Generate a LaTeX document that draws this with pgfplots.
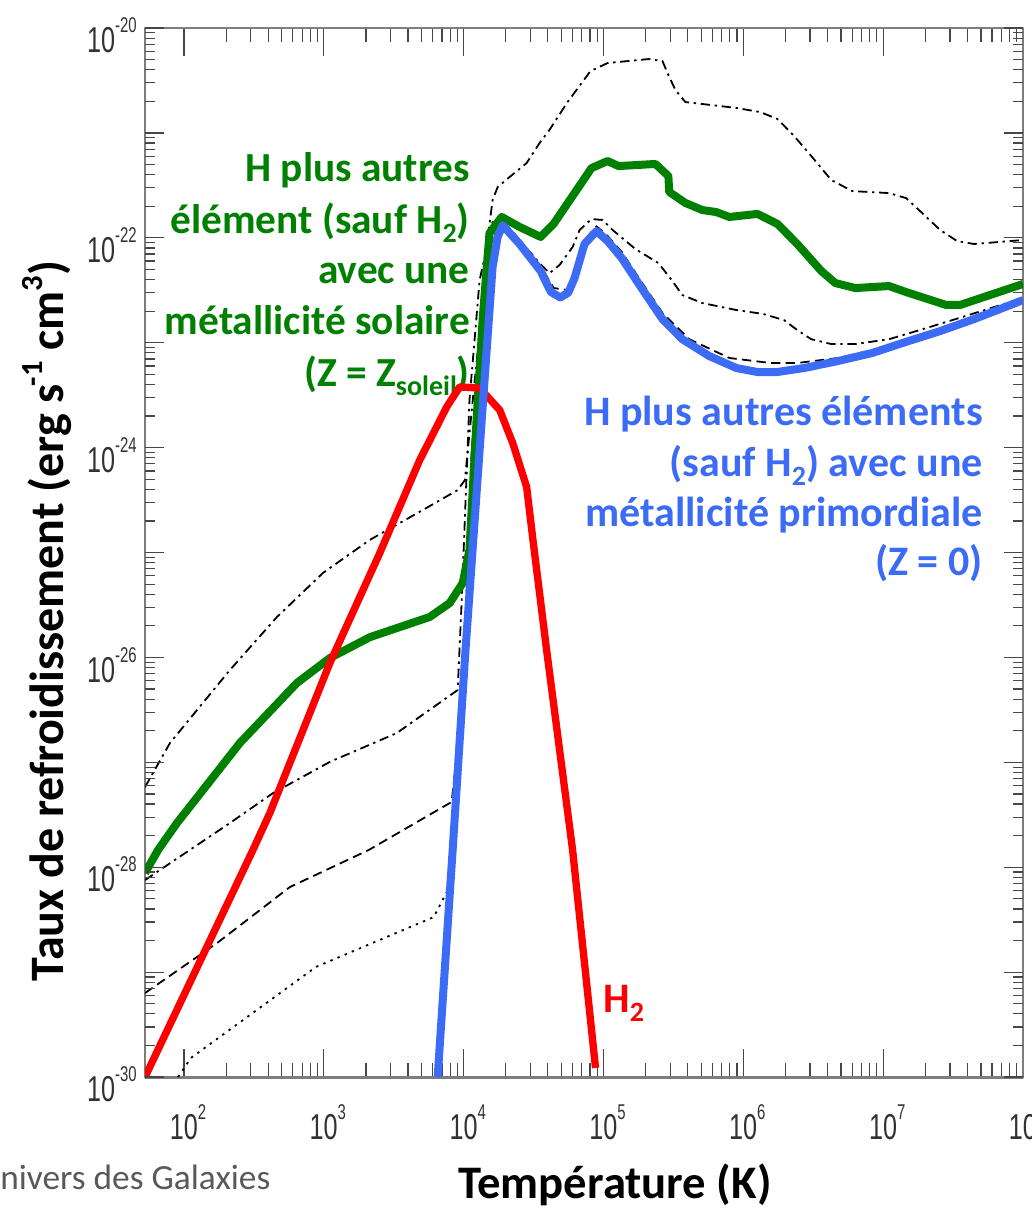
\documentclass[border=0pt]{standalone}
\usepackage{fontspec}
\setmainfont{Carlito}
\newfontfamily\tickfont[FakeStretch=0.7]{Liberation Sans}
\usepackage{pgfplots}
\pgfplotsset{compat=1.18}
\definecolor{cgreen}{RGB}{0,128,0}
\definecolor{cred}{RGB}{255,0,0}
\definecolor{cblue}{RGB}{60,108,245}
\definecolor{axgray}{RGB}{125,125,125}
\definecolor{tkgray}{RGB}{70,70,70}
\definecolor{tklab}{RGB}{50,50,50}
\definecolor{txgray}{RGB}{89,89,89}
\newcommand\tl[1]{{\tickfont\fontsize{27}{27}\selectfont 10\raisebox{15pt}{\fontsize{16}{16}\selectfont #1}}}
\newcommand\sub[1]{\raisebox{-0.2em}{\fontsize{21}{21}\selectfont #1}}

\pgfplotstableread{
x y
52.6 5.81e-28
79.4 1.53e-27
213 7.59e-27
462 2.43e-26
984 6.38e-26
2133 1.32e-25
5093 2.54e-25
9060 3.94e-25
1.02e4 4.91e-25
1.20e4 4.41e-24
1.37e4 2.55e-23
1.51e4 1.19e-22
1.61e4 2.29e-22
1.75e4 3.05e-22
2.13e4 3.80e-22
2.82e4 5.16e-22
3.49e4 8.02e-22
4.11e4 1.07e-21
5.53e4 1.97e-21
8.07e4 3.89e-21
1.07e5 4.64e-21
2.10e5 5.06e-21
2.64e5 4.84e-21
2.91e5 3.56e-21
3.27e5 2.56e-21
3.85e5 1.97e-21
8.91e5 1.73e-21
1.32e6 1.58e-21
1.75e6 1.36e-21
2.31e6 9.33e-22
3.06e6 6.02e-22
4.25e6 3.56e-22
6.01e6 2.79e-22
1.10e7 2.67e-22
1.46e7 2.39e-22
1.93e7 1.69e-22
2.55e7 1.19e-22
3.38e7 9.31e-23
4.47e7 8.73e-23
1e8 9.53e-23
}\curveA

\pgfplotstableread{
x y
52.6 7.55e-29
213 2.64e-28
433 5.09e-28
1104 1.01e-27
3319 1.90e-27
9060 4.89e-27
9680 3.52e-26
1.10e4 2.84e-24
1.30e4 3.96e-23
1.61e4 1.42e-22
1.90e4 1.48e-22
2.51e4 9.53e-23
3.55e4 5.60e-23
4.11e4 4.61e-23
4.85e4 5.51e-23
6.01e4 8.17e-23
6.75e4 1.19e-22
8.20e4 1.51e-22
9.84e4 1.48e-22
1.16e5 1.19e-22
1.69e5 7.82e-23
2.47e5 5.75e-23
3.11e5 3.87e-23
3.66e5 2.85e-23
5.09e5 2.39e-23
8.91e5 2.05e-23
1.39e6 1.88e-23
1.96e6 1.64e-23
2.43e6 1.32e-23
3.06e6 1.08e-23
4.25e6 9.72e-24
6.31e6 9.72e-24
1.10e7 1.08e-23
1.93e7 1.35e-23
3.49e7 1.72e-23
1e8 2.67e-23
}\curveB

\pgfplotstableread{
x y
52.6 6.32e-30
172 1.89e-29
571 6.47e-29
2094 1.46e-28
8200 4.19e-28
9840 3.93e-27
1.14e4 9.48e-25
1.41e4 2.55e-23
1.69e4 1.14e-22
1.90e4 1.42e-22
2.51e4 9.53e-23
3.55e4 5.38e-23
4.40e4 3.32e-23
5.53e4 3.18e-23
6.21e4 4.72e-23
7.31e4 9.53e-23
8.91e4 1.29e-22
1.07e5 1.04e-22
1.35e5 7.33e-23
1.87e5 3.79e-23
2.64e5 1.92e-23
4.11e5 1.08e-23
7.94e5 7.15e-24
1.56e6 6.41e-24
2.43e6 6.41e-24
4.77e6 7.15e-24
8.35e6 8.51e-24
1.46e7 1.04e-23
2.55e7 1.29e-23
4.47e7 1.72e-23
1e8 2.60e-23
}\curveC

\pgfplotstableread{
x y
90.6 1e-30
112 1.52e-30
877 1.12e-29
6109 3.35e-29
7690 6.05e-29
8630 1.46e-28
1.03e4 1.17e-26
1.30e4 9.48e-25
1.46e4 8.51e-24
}\curveD

\pgfplotstableread{
x y
52.6 8.81e-29
65.2 1.46e-28
89.1 2.64e-28
251 1.53e-27
641 5.70e-27
1104 9.87e-27
2133 1.56e-26
5715 2.43e-26
7943 3.30e-26
9840 5.12e-26
1.10e4 1.06e-25
1.24e4 1.96e-24
1.37e4 1.76e-23
1.53e4 1.11e-22
1.87e4 1.58e-22
2.51e4 1.27e-22
3.55e4 1.02e-22
4.40e4 1.36e-22
6.21e4 2.67e-22
8.20e4 4.62e-22
1.07e5 5.40e-22
1.28e5 4.83e-22
2.35e5 5.06e-22
2.91e5 3.88e-22
2.95e5 2.74e-22
3.85e5 2.15e-22
5.09e5 1.84e-22
6.41e5 1.76e-22
7.94e5 1.58e-22
1.26e6 1.69e-22
1.75e6 1.36e-22
2.43e6 8.73e-23
3.61e6 4.83e-23
4.54e6 3.71e-23
6.31e6 3.32e-23
1.10e7 3.47e-23
1.46e7 3.04e-23
2.82e7 2.29e-23
3.55e7 2.29e-23
1e8 3.63e-23
}\curveGreen

\pgfplotstableread{
x y
52.6 1e-30
311 1.46e-28
411 3.29e-28
1104 8.85e-27
2512 9.9e-26
4850 7.62e-25
7560 2.44e-24
9360 3.79e-24
1.30e4 3.70e-24
1.81e4 2.28e-24
2.24e4 1.11e-24
2.82e4 4.21e-25
3.11e4 1.41e-25
3.92e4 1.17e-26
6.01e4 1.46e-28
8.77e4 1.22e-30
}\curveRed

\pgfplotstableread{
x y
6516 1e-30
8340 1.46e-28
1.03e4 1.17e-26
1.30e4 9.48e-25
1.46e4 8.51e-24
1.61e4 5.27e-23
1.75e4 1.02e-22
1.90e4 1.32e-22
2.51e4 8.73e-23
3.55e4 4.83e-23
4.20e4 3.05e-23
4.90e4 2.70e-23
5.60e4 3.00e-23
6.21e4 4.14e-23
7.31e4 8.73e-23
8.91e4 1.16e-22
1.07e5 9.31e-23
1.35e5 6.41e-23
1.87e5 3.32e-23
2.64e5 1.68e-23
3.66e5 1.08e-23
5.71e5 7.46e-24
8.91e5 5.74e-24
1.26e6 5.26e-24
1.75e6 5.26e-24
2.73e6 5.74e-24
4.77e6 6.70e-24
8.35e6 7.98e-24
1.46e7 1.02e-23
2.55e7 1.29e-23
4.47e7 1.68e-23
1e8 2.55e-23
}\curveBlue

\begin{document}
\begin{tikzpicture}
\path[use as bounding box] (0,0) rectangle (773.25pt,909pt);

% annotations (drawn below the curves)
\begin{scope}[inner sep=0pt, font=\bfseries\fontsize{31}{38}\selectfont]
\node[anchor=base east, text=cgreen] at (352.5pt,772.5pt) {H plus autres};
\node[anchor=base east, text=cgreen] at (352.5pt,733.5pt) {élément (sauf H\sub{2})};
\node[anchor=base east, text=cgreen] at (352.5pt,696pt) {avec une};
\node[anchor=base east, text=cgreen] at (352.5pt,657.75pt) {métallicité solaire};
\node[anchor=base east, text=cgreen] at (352.5pt,618.75pt) {(Z = Z\sub{soleil})};
\end{scope}
\begin{scope}[inner sep=0pt, font=\bfseries\fontsize{31.5}{38}\selectfont]
\node[anchor=base east, text=cblue] at (737.25pt,589.5pt) {H plus autres éléments};
\node[anchor=base east, text=cblue] at (737.25pt,551.25pt) {(sauf H\sub{2}) avec une};
\node[anchor=base east, text=cblue] at (737.25pt,513.75pt) {métallicité primordiale};
\node[anchor=base east, text=cblue] at (737.25pt,477pt) {(Z = 0)};
\node[anchor=base west, text=cred] at (452.25pt,149.25pt) {H\sub{2}};
\end{scope}

\node[inner sep=0pt, anchor=base, font=\bfseries\fontsize{35}{40}\selectfont] at (461.25pt,10pt) {Température (K)};
\node[inner sep=0pt, anchor=base, rotate=90, font=\bfseries\fontsize{36}{40}\selectfont] at (47.25pt,443.25pt) {Taux de refroidissement (erg s\kern-0.05em\raisebox{0.42em}{\fontsize{23}{23}\selectfont -1} cm\raisebox{0.42em}{\fontsize{23}{23}\selectfont 3})};
\node[inner sep=0pt, anchor=base west, text=txgray, font=\fontsize{26.5}{30}\selectfont] at (0pt,16.5pt) {\llap{U}nivers des Galaxies};

\begin{axis}[
  at={(108.75pt,101.25pt)}, anchor=south west,
  scale only axis, width=658.5pt, height=786.75pt,
  xmode=log, ymode=log,
  xmin=52.6, xmax=1e8, ymin=1e-30, ymax=1e-20,
  xtick={1e2,1e3,1e4,1e5,1e6,1e7,1e8},
  xticklabels={\tl{2},\tl{3},\tl{4},\tl{5},\tl{6},\tl{7},\tl{8}},
  ytick=\empty,
  major tick length=21pt, minor tick length=10.5pt,
  tick style={draw=tkgray, line width=0.9pt},
  axis line style={draw=axgray, line width=2.2pt},
  xticklabel style={inner sep=0pt, yshift=-20.75pt, xshift=3pt, text=tklab},
  line join=round,
]
\addplot[black, line width=1.35pt, dash pattern=on 7pt off 3.5pt on 1.8pt off 3.5pt] table {\curveA};
\addplot[black, line width=1.35pt, dash pattern=on 7pt off 3.5pt on 1.8pt off 3.5pt] table {\curveB};
\addplot[black, line width=1.35pt, dash pattern=on 7pt off 4pt] table {\curveC};
\addplot[black, line width=1.35pt, dash pattern=on 1.8pt off 4pt] table {\curveD};
\addplot[cgreen, line width=6pt] table {\curveGreen};
\addplot[cred, line width=5.5pt] table {\curveRed};
\addplot[cblue, line width=6pt] table {\curveBlue};
\end{axis}

\begin{axis}[
  at={(108.75pt,101.25pt)}, anchor=south west,
  scale only axis, width=658.5pt, height=786.75pt,
  xmode=log, ymode=log,
  xmin=52.6, xmax=1e8, ymin=1e-30, ymax=1e-20,
  xtick=\empty,
  ytick={1e-30,1e-29,1e-28,1e-27,1e-26,1e-25,1e-24,1e-23,1e-22,1e-21,1e-20},
  yticklabels={\tl{-30},,\tl{-28},,\tl{-26},,\tl{-24},,\tl{-22},,\tl{-20}},
  major tick length=14pt, minor tick length=7.5pt,
  tick style={draw=tkgray, line width=0.9pt},
  axis line style={draw=none},
  yticklabel style={inner sep=0pt, xshift=-6pt, yshift=-5.5pt, text=tklab},
]
\end{axis}
\end{tikzpicture}
\end{document}
